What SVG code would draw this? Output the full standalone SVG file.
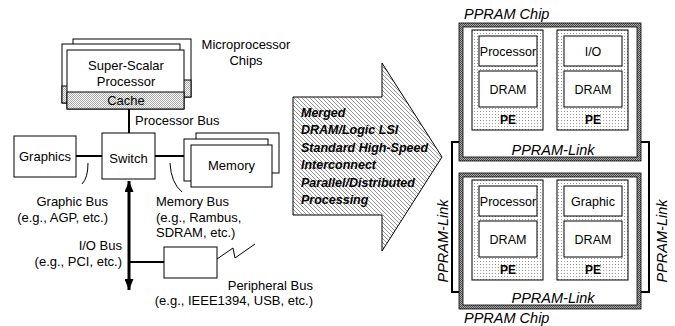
<svg xmlns="http://www.w3.org/2000/svg" width="675" height="326" viewBox="0 0 675 326">
<defs>
<style>
text{font-family:"Liberation Sans",Arial,sans-serif;fill:#000}
.t13{font-size:13px}
.t12{font-size:12.5px}
.bi{font-size:12.5px;font-weight:bold;font-style:italic}
.it{font-size:14.5px;font-style:italic}
.pe{font-size:12px;font-weight:bold}
.box{fill:#fff;stroke:#000;stroke-width:1}
.bus{fill:none;stroke:#000;stroke-width:2}
.thin{fill:none;stroke:#000;stroke-width:1}
.link{fill:none;stroke:#000;stroke-width:2}
</style>
<pattern id="dots" width="2" height="2" patternUnits="userSpaceOnUse">
<rect width="2" height="2" fill="#fff"/>
<rect x="0" y="0" width="1" height="1" fill="#aaa"/>
<rect x="1" y="1" width="1" height="1" fill="#aaa"/>
</pattern>
<pattern id="pedots" width="3" height="3" patternUnits="userSpaceOnUse">
<rect width="3" height="3" fill="#fff"/>
<rect x="0" y="0" width="1" height="1" fill="#999"/>
</pattern>
<pattern id="hatch" width="4" height="4" patternUnits="userSpaceOnUse">
<rect width="4" height="4" fill="#fff"/>
<path d="M-1,-1 L5,5 M-1,3 L1,5 M3,-1 L5,1" stroke="#666" stroke-width="0.7"/>
</pattern>
<pattern id="bhatch" width="2" height="2" patternUnits="userSpaceOnUse">
<rect width="2" height="2" fill="#aaa"/>
<path d="M-1,-1 L3,3" stroke="#333" stroke-width="0.8"/>
</pattern>
<marker id="big" viewBox="0 0 10 10" refX="10" refY="5" markerWidth="11" markerHeight="9" markerUnits="userSpaceOnUse" orient="auto-start-reverse" preserveAspectRatio="none">
<path d="M0,0 L10,5 L0,10 z" fill="#000"/>
</marker>
<marker id="sm" viewBox="0 0 10 10" refX="10" refY="5" markerWidth="8" markerHeight="7" markerUnits="userSpaceOnUse" orient="auto" preserveAspectRatio="none">
<path d="M0,0 L10,5 L0,10 z" fill="#000"/>
</marker>
</defs>

<rect width="675" height="326" fill="#fff"/>

<g id="connectors">
<path class="bus" d="M129,109 V133"/>
<path class="bus" d="M76,156 H102"/>
<path class="bus" d="M155,156 H184"/>
<path d="M129,181 V290" fill="none" stroke="#000" stroke-width="3" marker-start="url(#big)" marker-end="url(#big)"/>
<path class="bus" d="M129,262 H164"/>
<path class="thin" d="M217,259 L233,248 L235,258 L255,244"/>
<path class="thin" d="M88,163 Q88,178 82,184"/>
<path class="thin" d="M170,163 Q171,183 182,192"/>
<path class="link" d="M490,280 V292 H452 V142 H490 V131" marker-end="url(#sm)"/>
<path class="link" d="M525,130 V142 H575 V131" marker-end="url(#sm)"/>
<path class="link" d="M610,130 V142 H649 V292 H610 V281" marker-end="url(#sm)"/>
<path class="link" d="M575,280 V292 H525 V281" marker-end="url(#sm)"/>
</g>

<g id="microprocessor-chips">
<rect class="box" x="73" y="39" width="118" height="58"/>
<rect x="73" y="80" width="118" height="17" fill="url(#dots)" stroke="#000"/>
<rect class="box" x="62" y="44" width="118" height="59"/>
<rect x="62" y="86" width="118" height="17" fill="url(#dots)" stroke="#000"/>
<rect class="box" x="67" y="50" width="117" height="59"/>
<rect x="67" y="92" width="117" height="17" fill="url(#dots)" stroke="#000"/>
<text class="t13" x="126" y="70" text-anchor="middle">Super-Scalar</text>
<text class="t13" x="126" y="86" text-anchor="middle">Processor</text>
<text class="t13" x="126" y="105" text-anchor="middle">Cache</text>
<text class="t13" x="246" y="49" text-anchor="middle">Microprocessor</text>
<text class="t13" x="246" y="65" text-anchor="middle">Chips</text>
<text class="t13" x="135" y="125">Processor Bus</text>
</g>

<g id="graphics">
<rect class="box" x="14" y="136" width="62" height="41"/>
<text class="t13" x="45" y="161" text-anchor="middle">Graphics</text>
<text class="t13" x="108" y="206" text-anchor="end">Graphic Bus</text>
<text class="t13" x="108" y="221.5" text-anchor="end">(e.g., AGP, etc.)</text>
</g>

<g id="switch">
<rect class="box" x="102" y="133" width="53" height="46"/>
<text class="t13" x="128.5" y="163" text-anchor="middle">Switch</text>
</g>

<g id="memory">
<rect class="box" x="196" y="133" width="83" height="40"/>
<rect class="box" x="184" y="139" width="84" height="42"/>
<rect class="box" x="191" y="145" width="81" height="42"/>
<text class="t13" x="231.5" y="170" text-anchor="middle">Memory</text>
<text class="t13" x="156" y="206">Memory Bus</text>
<text class="t13" x="156" y="221.5">(e.g., Rambus,</text>
<text class="t13" x="156" y="237">SDRAM, etc.)</text>
</g>

<g id="io-bus">
<text class="t13" x="122" y="250" text-anchor="end">I/O Bus</text>
<text class="t13" x="122" y="266" text-anchor="end">(e.g., PCI, etc.)</text>
</g>

<g id="peripheral">
<rect class="box" x="164" y="247" width="53" height="31"/>
<text class="t13" x="313" y="290" text-anchor="end">Peripheral Bus</text>
<text class="t13" x="313" y="305" text-anchor="end">(e.g., IEEE1394, USB, etc.)</text>
</g>

<g id="big-arrow">
<polygon points="293,97 382,97 382,63 442,157 382,251 382,215 293,215" fill="url(#hatch)" stroke="#000" stroke-width="1"/>
<text class="bi" x="301" y="117">Merged</text>
<text class="bi" x="301" y="134">DRAM/Logic LSI</text>
<text class="bi" x="301" y="152">Standard High-Speed</text>
<text class="bi" x="301" y="169">Interconnect</text>
<text class="bi" x="301" y="187">Parallel/Distributed</text>
<text class="bi" x="301" y="204">Processing</text>
</g>

<g id="ppram-chip-top">
<rect x="461" y="25" width="178" height="134" fill="#fff" stroke="url(#bhatch)" stroke-width="4"/>
<rect x="459" y="23" width="182" height="138" fill="none" stroke="#000" stroke-width="0.8"/>
<rect x="463" y="27" width="174" height="130" fill="none" stroke="#000" stroke-width="0.8"/>
<text class="it" x="464" y="19">PPRAM Chip</text>
<text class="it" x="553" y="155" text-anchor="middle">PPRAM-Link</text>
</g>

<g id="ppram-chip-bottom">
<rect x="461" y="175" width="178" height="132" fill="#fff" stroke="url(#bhatch)" stroke-width="4"/>
<rect x="459" y="173" width="182" height="136" fill="none" stroke="#000" stroke-width="0.8"/>
<rect x="463" y="177" width="174" height="128" fill="none" stroke="#000" stroke-width="0.8"/>
<text class="it" x="553" y="303" text-anchor="middle">PPRAM-Link</text>
<text class="it" x="464" y="323">PPRAM Chip</text>
</g>

<g id="pe-top-left">
<rect x="472" y="30" width="71" height="100" fill="url(#pedots)" stroke="#000"/>
<rect class="box" x="479" y="36" width="58" height="30"/>
<rect class="box" x="479" y="71" width="58" height="36"/>
<text class="t12" x="508" y="56" text-anchor="middle">Processor</text>
<text class="t12" x="508" y="94" text-anchor="middle">DRAM</text>
<text class="pe" x="508" y="124" text-anchor="middle">PE</text>
</g>

<g id="pe-top-right">
<rect x="557" y="30" width="71" height="100" fill="url(#pedots)" stroke="#000"/>
<rect class="box" x="564" y="36" width="58" height="30"/>
<rect class="box" x="564" y="71" width="58" height="36"/>
<text class="t12" x="593" y="56" text-anchor="middle">I/O</text>
<text class="t12" x="593" y="94" text-anchor="middle">DRAM</text>
<text class="pe" x="593" y="124" text-anchor="middle">PE</text>
</g>

<g id="pe-bottom-left">
<rect x="472" y="180" width="71" height="100" fill="url(#pedots)" stroke="#000"/>
<rect class="box" x="479" y="186" width="58" height="30"/>
<rect class="box" x="479" y="221" width="58" height="36"/>
<text class="t12" x="508" y="206" text-anchor="middle">Processor</text>
<text class="t12" x="508" y="244" text-anchor="middle">DRAM</text>
<text class="pe" x="508" y="274" text-anchor="middle">PE</text>
</g>

<g id="pe-bottom-right">
<rect x="557" y="180" width="71" height="100" fill="url(#pedots)" stroke="#000"/>
<rect class="box" x="564" y="186" width="58" height="30"/>
<rect class="box" x="564" y="221" width="58" height="36"/>
<text class="t12" x="593" y="206" text-anchor="middle">Graphic</text>
<text class="t12" x="593" y="244" text-anchor="middle">DRAM</text>
<text class="pe" x="593" y="274" text-anchor="middle">PE</text>
</g>

<g id="link-labels">
<text class="it" transform="translate(448,241) rotate(-90)" text-anchor="middle">PPRAM-Link</text>
<text class="it" transform="translate(667,241) rotate(-90)" text-anchor="middle">PPRAM-Link</text>
</g>
</svg>
